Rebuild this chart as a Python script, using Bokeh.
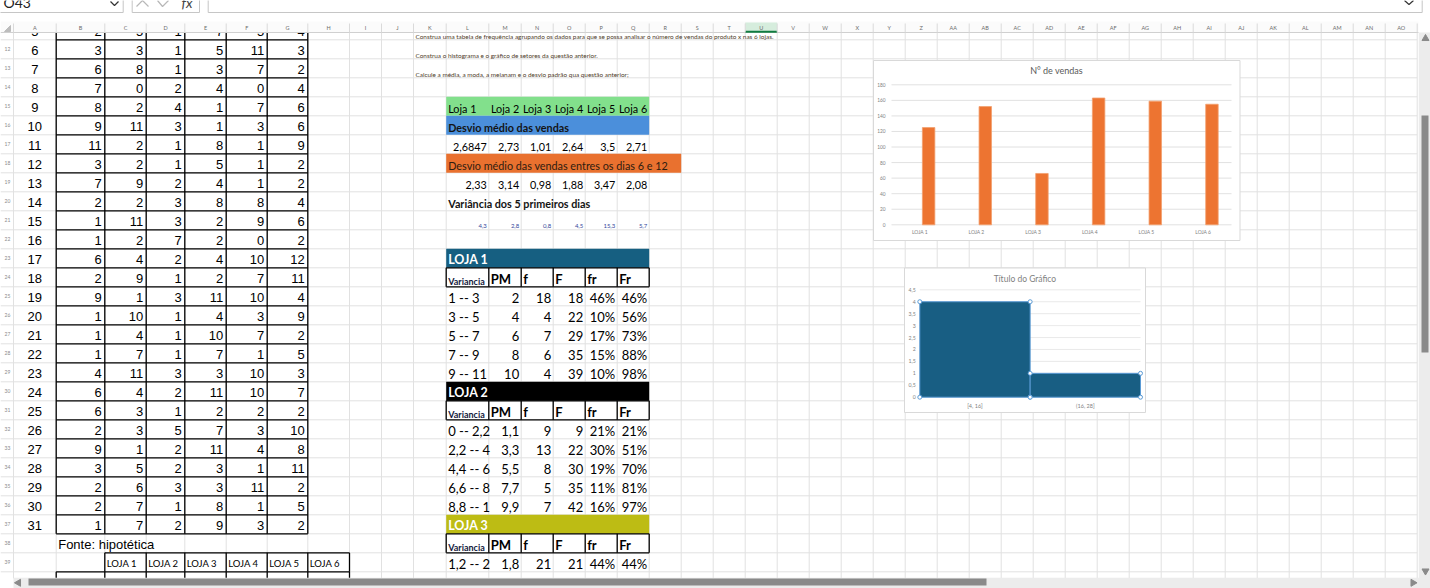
import numpy as np
from bokeh.plotting import figure
from bokeh.models import Range1d
from bokeh.core.properties import value
from bokeh.embed import file_html
from bokeh.resources import INLINE

# ---- dados da planilha ----
dias = list(range(5, 32))
vendas = [
    [2, 5, 1, 7, 5, 4],
    [3, 3, 1, 5, 11, 3],
    [6, 8, 1, 3, 7, 2],
    [7, 0, 2, 4, 0, 4],
    [8, 2, 4, 1, 7, 6],
    [9, 11, 3, 1, 3, 6],
    [11, 2, 1, 8, 1, 9],
    [3, 2, 1, 5, 1, 2],
    [7, 9, 2, 4, 1, 2],
    [2, 2, 3, 8, 8, 4],
    [1, 11, 3, 2, 9, 6],
    [1, 2, 7, 2, 0, 2],
    [6, 4, 2, 4, 10, 12],
    [2, 9, 1, 2, 7, 11],
    [9, 1, 3, 11, 10, 4],
    [1, 10, 1, 4, 3, 9],
    [1, 4, 1, 10, 7, 2],
    [1, 7, 1, 7, 1, 5],
    [4, 11, 3, 3, 10, 3],
    [6, 4, 2, 11, 10, 7],
    [6, 3, 1, 2, 2, 2],
    [2, 3, 5, 7, 3, 10],
    [9, 1, 2, 11, 4, 8],
    [3, 5, 2, 3, 1, 11],
    [2, 6, 3, 3, 11, 2],
    [2, 7, 1, 8, 1, 5],
    [1, 7, 2, 9, 3, 2],
]
lojas = ["Loja 1", "Loja 2", "Loja 3", "Loja 4", "Loja 5", "Loja 6"]
lojas_cab = ["LOJA 1", "LOJA 2", "LOJA 3", "LOJA 4", "LOJA 5", "LOJA 6"]
desvio_medio = [2.6847, 2.73, 1.01, 2.64, 3.5, 2.71]
desvio_6_12 = [2.33, 3.14, 0.98, 1.88, 3.47, 2.08]
variancia_5 = [4.3, 2.8, 0.8, 4.5, 15.3, 5.7]
enunciados = [
    "Construa uma tabela de frequência agrupando os dados para que se possa analisar o número de vendas do produto x nas 6 lojas.",
    "Construa o histograma e o gráfico de setores  da questão anterior.",
    "Calcule a média, a moda, a meianam e o desvio padrão qua questão anterior;",
]
cab_freq = ["Variancia", "PM", "f", "F", "fr", "Fr"]
loja1_freq = [
    ["1 -- 3", "2", "18", "18", "46%", "46%"],
    ["3 -- 5", "4", "4", "22", "10%", "56%"],
    ["5 -- 7", "6", "7", "29", "17%", "73%"],
    ["7 -- 9", "8", "6", "35", "15%", "88%"],
    ["9 -- 11", "10", "4", "39", "10%", "98%"],
]
loja2_freq = [
    ["0 -- 2,2", "1,1", "9", "9", "21%", "21%"],
    ["2,2 -- 4", "3,3", "13", "22", "30%", "51%"],
    ["4,4 -- 6", "5,5", "8", "30", "19%", "70%"],
    ["6,6 -- 8", "7,7", "5", "35", "11%", "81%"],
    ["8,8 -- 1", "9,9", "7", "42", "16%", "97%"],
]
loja3_freq = [["1,2 -- 2", "1,8", "21", "21", "44%", "44%"]]

# grafico 1: N° de vendas
n_vendas = [125, 152, 66, 163, 159, 155]
ticks_vendas = list(range(0, 181, 20))
# grafico 2: histograma
classes_hist = ["[4, 16]", "(16, 28]"]
freq_hist = [4, 1]
ticks_hist = [0, 0.5, 1, 1.5, 2, 2.5, 3, 3.5, 4, 4.5]


def br(v):
    return f"{v:g}".replace(".", ",")


# ---- geometria da planilha (pixels da tela) ----
W, H = 1430, 588
X0, X1, Y0, Y1 = 0, 1430, 0, 588

letras = [chr(65 + i) for i in range(26)] + ["A" + chr(65 + i) for i in range(15)]
col_edges = [13, 55.7, 104.3, 145.7, 184.3, 225.7, 266.7, 307.3, 349, 381, 413, 445.7, 488.3, 520.7]
while len(col_edges) < len(letras) + 1:
    col_edges.append(col_edges[-1] + 32)


def cl(c):
    return col_edges[c]


def cr(c):
    return col_edges[c + 1]


def rt(r):
    return 39.3 + (r - 12) * 19.0


def rb(r):
    return rt(r + 1)


def rc(r):
    return rt(r) + 9.5


def lin_range(pa, va, pb, vb, s, e):
    k = (vb - va) / (pb - pa)
    return Range1d(va + (s - pa) * k, va + (e - pa) * k)


p = figure(width=W, height=H, x_range=Range1d(X0, X1), y_range=Range1d(Y1, Y0),
           output_backend="svg", toolbar_location=None, min_border=0,
           x_axis_location=None, y_axis_location=None)
p.grid.visible = False
p.outline_line_color = None
p.background_fill_color = "white"


def txt(xs, ys, ts, size, font="Lato", color="black", align="left", style="normal",
        baseline="middle", **kw):
    p.text(x=xs, y=ys, text=ts, text_font=value(font), text_font_size=value(size),
           text_color=color, text_align=align, text_baseline=baseline,
           text_font_style=style, **kw)


# linhas de grade da planilha
hy = [rt(r) for r in range(12, 41)]
p.segment(x0=0, x1=col_edges[-1], y0=hy, y1=hy, line_color="#e1e1e1", line_width=1)
p.segment(x0=col_edges, x1=col_edges, y0=32, y1=578, line_color="#e1e1e1", line_width=1)

# preenchimentos
faixas = [(15, 11, 16, "#82e08c"), (16, 11, 16, "#4b8fdb"), (18, 11, 17, "#e9712f"),
          (23, 11, 16, "#165f81"), (30, 11, 16, "#000000"), (37, 11, 16, "#bdbc14")]
p.quad(left=[cl(f[1]) for f in faixas], right=[cr(f[2]) for f in faixas],
       top=[rt(f[0]) for f in faixas], bottom=[rb(f[0]) for f in faixas],
       fill_color=[f[3] for f in faixas], line_color=None)

# bordas pretas
bx0, bx1, by0, by1 = [], [], [], []
for r in range(12, 39):
    bx0.append(cl(1)); bx1.append(cr(6)); by0.append(rt(r)); by1.append(rt(r))
for c in range(1, 8):
    bx0.append(col_edges[c]); bx1.append(col_edges[c]); by0.append(32); by1.append(rt(38))
bx0.append(cl(2)); bx1.append(cr(7)); by0.append(rt(39)); by1.append(rt(39))
for c in range(2, 9):
    bx0.append(col_edges[c]); bx1.append(col_edges[c]); by0.append(rt(39)); by1.append(rt(40))
bx0.append(cl(1)); bx1.append(cr(7)); by0.append(rt(40)); by1.append(rt(40))
for c in range(1, 9):
    bx0.append(col_edges[c]); bx1.append(col_edges[c]); by0.append(rt(40)); by1.append(578)
for r in (24, 31, 38):
    for yy in (rt(r), rb(r)):
        bx0.append(cl(11)); bx1.append(cr(16)); by0.append(yy); by1.append(yy)
    for c in range(11, 18):
        bx0.append(col_edges[c]); bx1.append(col_edges[c]); by0.append(rt(r)); by1.append(rb(r))
p.segment(x0=bx0, x1=bx1, y0=by0, y1=by1, line_color="black", line_width=1.3)

# tabela de vendas
xs, ys, ts = [], [], []
for k, d in enumerate(dias):
    xs.append((cl(0) + cr(0)) / 2); ys.append(rc(11 + k) + 1); ts.append(str(d))
txt(xs, ys, ts, "13px", font="Liberation Sans", align="center")
xs, ys, ts = [], [], []
for k, linha in enumerate(vendas):
    for j, v in enumerate(linha):
        xs.append(cr(1 + j) - 3); ys.append(rc(11 + k) + 1); ts.append(str(v))
txt(xs, ys, ts, "13px", font="Liberation Sans", align="right")
txt([cl(1) + 2], [rc(38) + 1.5], ["Fonte: hipotética"], "13px", font="Liberation Sans")
txt([cl(2 + j) + 2 for j in range(6)], [rc(39) + 1.5] * 6, lojas_cab, "9.5px")

# enunciados
txt([cl(10) + 2] * 3, [rb(11) - 3.8, rb(12) - 3.8, rb(13) - 3.8], enunciados, "6.4px", color="#4d3a28")

# quadro de desvios
yo, fs = 2.5, "10.8px"
txt([cl(11) + 2], [rc(15) + yo], [lojas[0]], fs)
txt([cr(11 + j) - 2 for j in range(1, 6)], [rc(15) + yo] * 5, lojas[1:], fs, align="right")
txt([cl(11) + 2], [rc(16) + yo], ["Desvio médio das vendas"], fs, style="bold", color="#141414")
txt([cr(11 + j) - 2 for j in range(6)], [rc(17) + yo] * 6, [br(v) for v in desvio_medio], fs, align="right")
txt([cl(11) + 2], [rc(18) + yo], ["Desvio médio das vendas entres os dias 6 e 12"], fs, color="#2e1c10")
txt([cr(11 + j) - 2 for j in range(6)], [rc(19) + yo] * 6, [br(v) for v in desvio_6_12], fs, align="right")
txt([cl(11) + 2], [rc(20) + yo], ["Variância dos 5 primeiros dias"], fs, style="bold", color="#141414")
txt([cr(11 + j) - 2 for j in range(6)], [rb(21) - 4] * 6, [br(v) for v in variancia_5], "6px",
    align="right", color="#33479a")

# tabelas de frequencia
for r0, nome, linhas in ((23, "LOJA 1", loja1_freq), (30, "LOJA 2", loja2_freq), (37, "LOJA 3", loja3_freq)):
    txt([cl(11) + 2], [rc(r0) + 1.5], [nome], "12.5px", style="bold", color="white")
    txt([cl(11) + 2], [rb(r0 + 1) - 5.5], [cab_freq[0]], "9px", style="bold", color="#14213d")
    txt([cl(11 + j) + 2 for j in range(1, 6)], [rc(r0 + 1) + 1.5] * 5, cab_freq[1:], "13px", style="bold")
    xs, ys, ts = [], [], []
    for k, linha in enumerate(linhas):
        xs.append(cl(11) + 2); ys.append(rc(r0 + 2 + k) + 1.5); ts.append(linha[0])
    txt(xs, ys, ts, "13px")
    xs, ys, ts = [], [], []
    for k, linha in enumerate(linhas):
        for j in range(1, 6):
            xs.append(cr(11 + j) - 2); ys.append(rc(r0 + 2 + k) + 1.5); ts.append(linha[j])
    txt(xs, ys, ts, "13px", align="right")

# numeros das linhas
rr = list(range(11, 40))
txt([7] * len(rr), [rc(r) for r in rr], [str(r) for r in rr], "5px",
    color="#8a8a8a", align="center")

# cabecalho das colunas
p.quad(left=0, right=1418, top=21, bottom=32, fill_color="#fbfbfb", line_color=None)
p.quad(left=cl(20), right=cr(20), top=22, bottom=32, fill_color="#d6eddd", line_color=None)
p.segment(x0=0, x1=1418, y0=32, y1=32, line_color="#d0d0d0")
p.segment(x0=cl(20), x1=cr(20), y0=31.3, y1=31.3, line_color="#107c41", line_width=2)
p.segment(x0=col_edges, x1=col_edges, y0=23, y1=32, line_color="#dadada")
p.patch([4, 10, 10], [31, 31, 25], color="#bdbdbd")
txt([(cl(i) + cr(i)) / 2 for i in range(len(letras))], [27.5] * len(letras), letras, "5.5px",
    color="#6b6b6b", align="center")

# barra de formula
p.quad(left=[-4, 131.7, 207.7], right=[122.7, 199, 1421.7], top=-4, bottom=12,
       fill_color="white", line_color="#c6c6c6")
txt([3], [1.5], ["O43"], "14px", color="#222222")
txt([181], [1.5], ["fx"], "14px", color="#444444", style="italic")
p.multi_line(xs=[[110, 114, 118], [1404, 1408.5, 1413], [136, 142, 148], [157, 162, 168]],
             ys=[[1, 5, 1], [0, 4, 0], [6, 0, 6], [0, 6, 0]],
             line_color=["#333333", "#333333", "#b8b8b8", "#b8b8b8"], line_width=1.2)

# ---- grafico 1: N° de vendas ----
p.extra_x_ranges = {
    "g1x": lin_range(891, 0, 1231, 6, X0, X1),
    "g2x": lin_range(919.3, 0, 1140, 2, X0, X1),
}
p.extra_y_ranges = {
    "g1y": lin_range(224.3, 0, 84.3, 180, Y1, Y0),
    "g2y": lin_range(396.7, 0, 289.3, 4.5, Y1, Y0),
}
g1 = dict(x_range_name="g1x", y_range_name="g1y")
g2 = dict(x_range_name="g2x", y_range_name="g2y")

p.quad(left=873, right=1239.5, top=60, bottom=240, fill_color="white", line_color="#d9d9d9")
txt([1056], [70], ["N° de vendas"], "9px", color="#595959", align="center")
p.segment(x0=0, x1=6, y0=ticks_vendas, y1=ticks_vendas, line_color="#d9d9d9", line_width=0.8, **g1)
pos = np.arange(len(n_vendas)) + 0.5
p.vbar(x=pos + 0.155, top=n_vendas, bottom=0, width=0.22, fill_color="#ed7431",
       line_color="#f3a06e", line_width=0.8, **g1)
txt([0] * len(ticks_vendas), ticks_vendas, [str(t) for t in ticks_vendas], "4.8px",
    color="#7f7f7f", align="right", x_offset=-6, **g1)
txt(list(pos), [0] * 6, lojas_cab, "5px", color="#7f7f7f", align="center", y_offset=7.5, **g1)

# ---- grafico 2: histograma ----
p.quad(left=904, right=1145, top=267.5, bottom=412, fill_color="white", line_color="#d9d9d9")
txt([1024.5], [278.5], ["Título do Gráfico"], "8.5px", color="#7f7f7f", align="center")
p.segment(x0=0, x1=2, y0=ticks_hist, y1=ticks_hist, line_color="#e3e3e3", line_width=0.8, **g2)
ix = np.arange(len(freq_hist))
p.quad(left=ix, right=ix + 1, bottom=0, top=freq_hist, fill_color="#185e83",
       line_color="#5b9bd5", line_width=1, **g2)
hx, hy2 = [], []
for i, c in enumerate(freq_hist):
    hx += [i, i, i + 1, i + 1]
    hy2 += [0, c, c, 0]
p.scatter(x=hx, y=hy2, size=4, fill_color="white", line_color="#5b9bd5", line_width=1, **g2)
txt([0] * len(ticks_hist), ticks_hist, [br(t) for t in ticks_hist], "5.2px",
    color="#7f7f7f", align="right", x_offset=-4, **g2)
txt(list(ix + 0.5), [0] * len(ix), classes_hist, "5.5px", color="#7f7f7f", align="center",
    y_offset=8.5, **g2)

# barras de rolagem
p.quad(left=[13, 1418.3], right=[1430, 1430], top=[577.3, 32], bottom=[590, 590],
       fill_color="#ececec", line_color=None)
p.quad(left=[28, 1421], right=[986, 1428], top=[578, 115], bottom=[585, 352],
       fill_color="#8a8a8a", line_color=None)
p.scatter(x=[1425, 1425, 1412.5, 18], y=[38, 570.5, 582.3, 582.3], size=7,
          marker="triangle", angle=[0, np.pi, -np.pi / 2, np.pi / 2], color="#8a8a8a")

open("out.html", "w").write(file_html(p, INLINE, "planilha"))
